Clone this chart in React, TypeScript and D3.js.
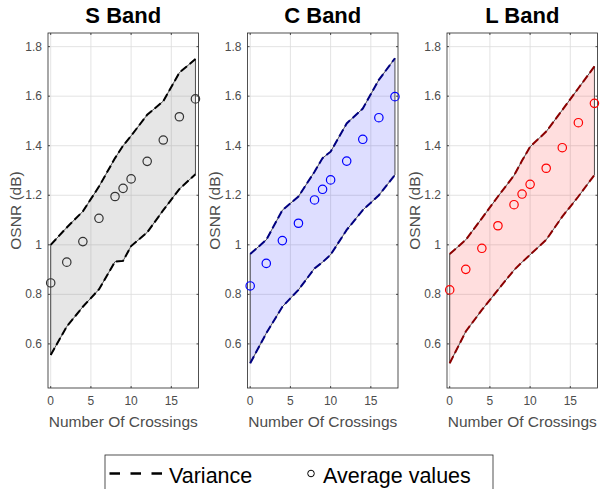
import * as d3 from "d3";

const crossings = [0, 2, 4, 6, 8, 9, 10, 12, 14, 16, 18];

const sAverage = [0.846, 0.93, 1.013, 1.107, 1.195, 1.228, 1.266, 1.337, 1.423, 1.517, 1.589];
const sUpper = [1.0, 1.07, 1.135, 1.235, 1.35, 1.4, 1.44, 1.525, 1.58, 1.695, 1.75];
const sLower = [0.555, 0.67, 0.75, 0.82, 0.932, 0.935, 0.995, 1.05, 1.14, 1.225, 1.285];

const cAverage = [0.834, 0.925, 1.017, 1.087, 1.181, 1.224, 1.262, 1.338, 1.426, 1.513, 1.598];
const cUpper = [0.963, 1.02, 1.14, 1.195, 1.295, 1.35, 1.376, 1.49, 1.55, 1.666, 1.753];
const cLower = [0.522, 0.643, 0.75, 0.818, 0.905, 0.93, 0.96, 1.06, 1.14, 1.2, 1.282];

const lAverage = [0.818, 0.901, 0.986, 1.077, 1.162, 1.205, 1.244, 1.309, 1.392, 1.493, 1.571];
const lUpper = [0.963, 1.02, 1.107, 1.195, 1.28, 1.34, 1.396, 1.457, 1.544, 1.632, 1.72];
const lLower = [0.522, 0.65, 0.737, 0.818, 0.898, 0.93, 0.96, 1.02, 1.114, 1.195, 1.282];

const xTicks = [0, 5, 10, 15];
const yTicks = [0.6, 0.8, 1, 1.2, 1.4, 1.6, 1.8];

const panels = [
  { title: "S Band", avg: sAverage, upper: sUpper, lower: sLower, fill: "#808080", fillOpacity: 0.2, dash: "#000000", marker: "#333333" },
  { title: "C Band", avg: cAverage, upper: cUpper, lower: cLower, fill: "#0000ff", fillOpacity: 0.13, dash: "#000080", marker: "#0000ff" },
  { title: "L Band", avg: lAverage, upper: lUpper, lower: lLower, fill: "#ff0000", fillOpacity: 0.13, dash: "#8b0000", marker: "#ff0000" },
];

const W = 604;
const H = 489;
const panelLefts = [48, 247.5, 447];
const panelWidth = 150.5;
const top = 33;
const bottom = 388;
const font = "'Liberation Sans', Arial, Helvetica, sans-serif";
const axisColor = "#262626";
const tickColor = "#4d4d4d";

function Panel({ p, left }: { p: (typeof panels)[number]; left: number }) {
  const x = d3.scaleLinear().domain([-0.335, 18.38]).range([left, left + panelWidth]);
  const y = d3.scaleLinear().domain([0.422, 1.855]).range([bottom, top]);
  const idx = crossings.map((_, i) => i);

  const area = d3
    .area<number>()
    .x((i) => x(crossings[i]))
    .y0((i) => y(p.lower[i]))
    .y1((i) => y(p.upper[i]));
  const upperLine = d3
    .line<number>()
    .x((i) => x(crossings[i]))
    .y((i) => y(p.upper[i]));
  const lowerLine = d3
    .line<number>()
    .x((i) => x(crossings[i]))
    .y((i) => y(p.lower[i]));

  const cx = left + panelWidth / 2;
  const cy = (top + bottom) / 2;

  return (
    <g>
      <text x={cx} y={23} textAnchor="middle" fontSize={22} fontWeight="bold" fill="#000" fontFamily={font}>
        {p.title}
      </text>
      <rect x={left} y={top} width={panelWidth} height={bottom - top} fill="#fff" />
      {xTicks.map((t) => (
        <line key={"gx" + t} x1={x(t)} x2={x(t)} y1={top} y2={bottom} stroke="#dcdcdc" strokeWidth={0.8} />
      ))}
      {yTicks.map((t) => (
        <line key={"gy" + t} x1={left} x2={left + panelWidth} y1={y(t)} y2={y(t)} stroke="#dcdcdc" strokeWidth={0.8} />
      ))}
      <path d={area(idx) ?? ""} fill={p.fill} fillOpacity={p.fillOpacity} stroke="#222" strokeWidth={0.8} />
      <path d={upperLine(idx) ?? ""} fill="none" stroke={p.dash} strokeWidth={2} strokeDasharray="8,3.5" />
      <path d={lowerLine(idx) ?? ""} fill="none" stroke={p.dash} strokeWidth={2} strokeDasharray="8,3.5" />
      <rect x={left} y={top} width={panelWidth} height={bottom - top} fill="none" stroke={axisColor} strokeWidth={0.8} />
      {xTicks.map((t) => (
        <g key={"tx" + t}>
          <line x1={x(t)} x2={x(t)} y1={bottom} y2={bottom - 2} stroke={axisColor} strokeWidth={0.8} />
          <line x1={x(t)} x2={x(t)} y1={top} y2={top + 2} stroke={axisColor} strokeWidth={0.8} />
          <text x={x(t)} y={405} textAnchor="middle" fontSize={12} fill={tickColor} fontFamily={font}>
            {t}
          </text>
        </g>
      ))}
      {yTicks.map((t) => (
        <g key={"ty" + t}>
          <line x1={left} x2={left + 2} y1={y(t)} y2={y(t)} stroke={axisColor} strokeWidth={0.8} />
          <line x1={left + panelWidth} x2={left + panelWidth - 2} y1={y(t)} y2={y(t)} stroke={axisColor} strokeWidth={0.8} />
          <text x={left - 6} y={y(t) + 4} textAnchor="end" fontSize={12} fill={tickColor} fontFamily={font}>
            {d3.format("~g")(t)}
          </text>
        </g>
      ))}
      {p.avg.map((v, i) => (
        <circle key={"c" + i} cx={x(crossings[i])} cy={y(v)} r={4.2} fill="none" stroke={p.marker} strokeWidth={1.2} />
      ))}
      <text x={cx} y={427} textAnchor="middle" fontSize={15.5} fill={tickColor} fontFamily={font}>
        Number Of Crossings
      </text>
      <text
        transform={`translate(${left - 27.5},${cy}) rotate(-90)`}
        textAnchor="middle"
        fontSize={15.5}
        fill={tickColor}
        fontFamily={font}
      >
        OSNR (dB)
      </text>
    </g>
  );
}

export default function App() {
  return (
    <div style={{ position: "absolute", left: 0, top: 0 }}>
      <svg width={W} height={H} style={{ display: "block", background: "#fff" }}>
        {panels.map((p, i) => (
          <Panel key={p.title} p={p} left={panelLefts[i]} />
        ))}
        <g>
          <rect x={105} y={455} width={388} height={45} fill="#fff" stroke={axisColor} strokeWidth={0.8} />
          <line x1={109.5} x2={162} y1={473.5} y2={473.5} stroke="#000" strokeWidth={2.4} strokeDasharray="10.5,10.5" />
          <text x={169} y={483} fontSize={21.5} fill="#000" fontFamily={font}>
            Variance
          </text>
          <circle cx={311} cy={473.5} r={3.3} fill="none" stroke="#000" strokeWidth={1} />
          <text x={323} y={483} fontSize={21.5} fill="#000" fontFamily={font}>
            Average values
          </text>
        </g>
      </svg>
    </div>
  );
}
